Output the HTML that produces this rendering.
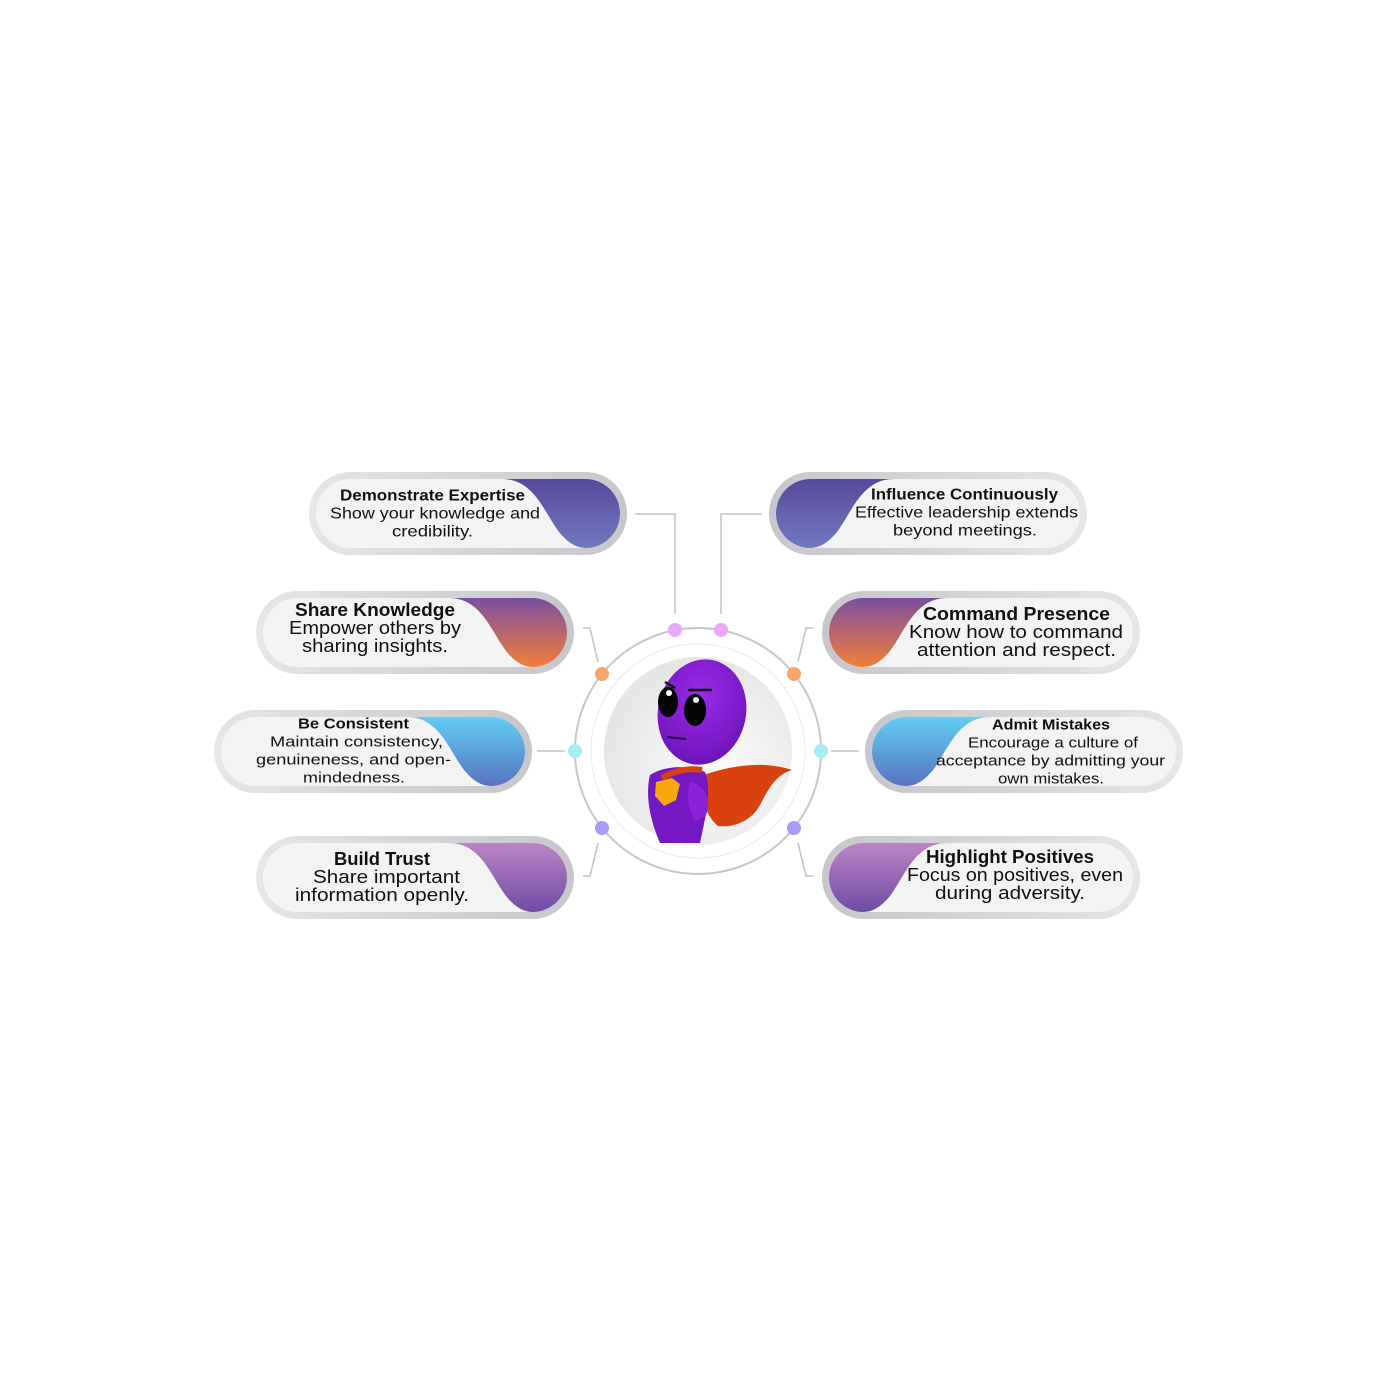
<!DOCTYPE html>
<html><head><meta charset="utf-8"><style>html,body{margin:0;padding:0;background:#fff}svg{display:block}text{font-family:"Liberation Sans",sans-serif;fill:#111}</style></head>
<body>
<svg width="1396" height="1396" viewBox="0 0 1396 1396" xmlns="http://www.w3.org/2000/svg">
<defs>
<clipPath id="ci"><rect x="7" y="7" width="304" height="69" rx="34.5"/></clipPath>
<linearGradient id="bd" x1="0" y1="0" x2="1" y2="0"><stop offset="0" stop-color="#e6e6e8"/><stop offset="1" stop-color="#c6c6cb"/></linearGradient>
<linearGradient id="bdr" x1="1" y1="0" x2="0" y2="0"><stop offset="0" stop-color="#e6e6e8"/><stop offset="1" stop-color="#c6c6cb"/></linearGradient>
<linearGradient id="g1" x1="0" y1="0" x2="0" y2="1"><stop offset="0" stop-color="#574a9c"/><stop offset="1" stop-color="#7079be"/></linearGradient>
<linearGradient id="g2" x1="0" y1="0" x2="0" y2="1"><stop offset="0" stop-color="#7b4ea0"/><stop offset="1" stop-color="#f27f3a"/></linearGradient>
<linearGradient id="g3" x1="0" y1="0" x2="0" y2="1"><stop offset="0" stop-color="#62cdf2"/><stop offset="1" stop-color="#5774c0"/></linearGradient>
<linearGradient id="g4" x1="0" y1="0" x2="0" y2="1"><stop offset="0" stop-color="#bd84c4"/><stop offset="1" stop-color="#6f4ca6"/></linearGradient>
<radialGradient id="disk" cx="0.6" cy="0.6" r="0.6"><stop offset="0" stop-color="#fafafa"/><stop offset="1" stop-color="#e6e6e6"/></radialGradient>
<radialGradient id="head" cx="0.45" cy="0.35" r="0.7"><stop offset="0" stop-color="#9a2be8"/><stop offset="1" stop-color="#6a12b8"/></radialGradient>
</defs>

<!-- connectors -->
<g fill="none" stroke="#c4c4c4" stroke-width="1.6">
<polyline points="635,514 675,514 675,614"/>
<polyline points="762,514 721,514 721,614"/>
<polyline points="583,628 590,628 598,662"/>
<polyline points="537,751 565,751"/>
<polyline points="583,876 590,876 598,843"/>
<polyline points="813,628 806,628 798,662"/>
<polyline points="859,751 831,751"/>
<polyline points="813,876 806,876 798,843"/>
</g>

<!-- ring -->
<circle cx="698" cy="751" r="123" fill="none" stroke="#c8c8c8" stroke-width="2"/>
<circle cx="698" cy="751" r="107" fill="#fff" stroke="#f1e4fb" stroke-width="1"/>
<circle cx="698" cy="751" r="94" fill="url(#disk)"/>
<g>
<circle cx="675" cy="630" r="7" fill="#e8aaf8"/>
<circle cx="721" cy="630" r="7" fill="#e8aaf8"/>
<circle cx="602" cy="674" r="7" fill="#f9a66a"/>
<circle cx="794" cy="674" r="7" fill="#f9a66a"/>
<circle cx="575" cy="751" r="7" fill="#a8eef0"/>
<circle cx="821" cy="751" r="7" fill="#a8eef0"/>
<circle cx="602" cy="828" r="7" fill="#a99cf6"/>
<circle cx="794" cy="828" r="7" fill="#a99cf6"/>
</g>

<!-- character -->
<g>
<path d="M700,776 C730,766 760,760 792,770 C775,775 768,790 760,805 C752,820 735,828 718,826 C705,815 700,795 700,776Z" fill="#d8420e"/>
<path d="M650,775 C665,765 690,765 705,772 C712,790 706,815 700,843 L660,843 C650,820 645,795 650,775Z" fill="#7418c4"/>
<path d="M690,782 C705,785 712,800 706,815 L695,822 C688,808 686,795 690,782Z" fill="#8a22d8"/>
<path d="M656,782 L672,778 L680,784 L676,800 L664,806 L655,796Z" fill="#f7a80e"/>
<path d="M662,778 C675,770 690,768 702,770" stroke="#d8420e" stroke-width="6" fill="none"/>
<ellipse cx="702" cy="712" rx="44" ry="53" transform="rotate(12 702 712)" fill="url(#head)"/>
<ellipse cx="668" cy="702" rx="10" ry="15" fill="#050505"/>
<ellipse cx="695" cy="710" rx="11" ry="16" fill="#050505"/>
<circle cx="669" cy="693" r="3" fill="#fff"/>
<circle cx="696" cy="700" r="3" fill="#fff"/>
<path d="M665,682 L675,688 M688,690 L712,690" stroke="#111" stroke-width="2.5"/>
<path d="M667,737 L686,739" stroke="#2a0a4a" stroke-width="2"/>
</g>

<!-- cards -->
<!-- left cards -->
<g transform="translate(309,472)">
<rect width="318" height="83" rx="41.5" fill="url(#bd)"/>
<rect x="7" y="7" width="304" height="69" rx="34.5" fill="#f3f3f3"/>
<path clip-path="url(#ci)" d="M193,7 C225,7 235,40 250,60 C260,72 268,76 278,76 L311,76 L311,7 Z" fill="url(#g1)"/>
</g>
<g transform="translate(256,591)">
<rect width="318" height="83" rx="41.5" fill="url(#bd)"/>
<rect x="7" y="7" width="304" height="69" rx="34.5" fill="#f3f3f3"/>
<path clip-path="url(#ci)" d="M193,7 C225,7 235,40 250,60 C260,72 268,76 278,76 L311,76 L311,7 Z" fill="url(#g2)"/>
</g>
<g transform="translate(214,710)">
<rect width="318" height="83" rx="41.5" fill="url(#bd)"/>
<rect x="7" y="7" width="304" height="69" rx="34.5" fill="#f3f3f3"/>
<path clip-path="url(#ci)" d="M193,7 C225,7 235,40 250,60 C260,72 268,76 278,76 L311,76 L311,7 Z" fill="url(#g3)"/>
</g>
<g transform="translate(256,836)">
<rect width="318" height="83" rx="41.5" fill="url(#bd)"/>
<rect x="7" y="7" width="304" height="69" rx="34.5" fill="#f3f3f3"/>
<path clip-path="url(#ci)" d="M193,7 C225,7 235,40 250,60 C260,72 268,76 278,76 L311,76 L311,7 Z" fill="url(#g4)"/>
</g>
<!-- right cards -->
<g transform="translate(769,472)">
<rect width="318" height="83" rx="41.5" fill="url(#bdr)"/>
<rect x="7" y="7" width="304" height="69" rx="34.5" fill="#f3f3f3"/>
<path clip-path="url(#ci)" d="M125,7 C93,7 83,40 68,60 C58,72 50,76 40,76 L7,76 L7,7 Z" fill="url(#g1)"/>
</g>
<g transform="translate(822,591)">
<rect width="318" height="83" rx="41.5" fill="url(#bdr)"/>
<rect x="7" y="7" width="304" height="69" rx="34.5" fill="#f3f3f3"/>
<path clip-path="url(#ci)" d="M125,7 C93,7 83,40 68,60 C58,72 50,76 40,76 L7,76 L7,7 Z" fill="url(#g2)"/>
</g>
<g transform="translate(865,710)">
<rect width="318" height="83" rx="41.5" fill="url(#bdr)"/>
<rect x="7" y="7" width="304" height="69" rx="34.5" fill="#f3f3f3"/>
<path clip-path="url(#ci)" d="M125,7 C93,7 83,40 68,60 C58,72 50,76 40,76 L7,76 L7,7 Z" fill="url(#g3)"/>
</g>
<g transform="translate(822,836)">
<rect width="318" height="83" rx="41.5" fill="url(#bdr)"/>
<rect x="7" y="7" width="304" height="69" rx="34.5" fill="#f3f3f3"/>
<path clip-path="url(#ci)" d="M125,7 C93,7 83,40 68,60 C58,72 50,76 40,76 L7,76 L7,7 Z" fill="url(#g4)"/>
</g>

<!-- text -->
<g text-anchor="middle" dominant-baseline="central" lengthAdjust="spacingAndGlyphs">
<text x="432.5" y="496" font-size="16" font-weight="bold" textLength="185" lengthAdjust="spacingAndGlyphs">Demonstrate Expertise</text>
<text x="435" y="514" font-size="16" textLength="210" lengthAdjust="spacingAndGlyphs">Show your knowledge and</text>
<text x="432.5" y="532" font-size="16" textLength="81" lengthAdjust="spacingAndGlyphs">credibility.</text>

<text x="375" y="610" font-size="18" font-weight="bold" textLength="160" lengthAdjust="spacingAndGlyphs">Share Knowledge</text>
<text x="375" y="628" font-size="18" textLength="172" lengthAdjust="spacingAndGlyphs">Empower others by</text>
<text x="375" y="646" font-size="18" textLength="146" lengthAdjust="spacingAndGlyphs">sharing insights.</text>

<text x="353.5" y="724" font-size="15" font-weight="bold" textLength="111" lengthAdjust="spacingAndGlyphs">Be Consistent</text>
<text x="356.5" y="742" font-size="15" textLength="173" lengthAdjust="spacingAndGlyphs">Maintain consistency,</text>
<text x="353.5" y="760" font-size="15" textLength="195" lengthAdjust="spacingAndGlyphs">genuineness, and open-</text>
<text x="354" y="778" font-size="15" textLength="102" lengthAdjust="spacingAndGlyphs">mindedness.</text>

<text x="382" y="859" font-size="18" font-weight="bold" textLength="96" lengthAdjust="spacingAndGlyphs">Build Trust</text>
<text x="386.5" y="877" font-size="18" textLength="147" lengthAdjust="spacingAndGlyphs">Share important</text>
<text x="382" y="895" font-size="18" textLength="174" lengthAdjust="spacingAndGlyphs">information openly.</text>

<text x="964.5" y="495" font-size="16" font-weight="bold" textLength="187" lengthAdjust="spacingAndGlyphs">Influence Continuously</text>
<text x="966.5" y="513" font-size="16" textLength="223" lengthAdjust="spacingAndGlyphs">Effective leadership extends</text>
<text x="965" y="531" font-size="16" textLength="144" lengthAdjust="spacingAndGlyphs">beyond meetings.</text>

<text x="1016.5" y="614" font-size="18" font-weight="bold" textLength="187" lengthAdjust="spacingAndGlyphs">Command Presence</text>
<text x="1016" y="632" font-size="18" textLength="214" lengthAdjust="spacingAndGlyphs">Know how to command</text>
<text x="1016.5" y="650" font-size="18" textLength="199" lengthAdjust="spacingAndGlyphs">attention and respect.</text>

<text x="1051" y="725" font-size="15" font-weight="bold" textLength="118" lengthAdjust="spacingAndGlyphs">Admit Mistakes</text>
<text x="1053" y="743" font-size="15" textLength="170" lengthAdjust="spacingAndGlyphs">Encourage a culture of</text>
<text x="1050.5" y="761" font-size="15" textLength="229" lengthAdjust="spacingAndGlyphs">acceptance by admitting your</text>
<text x="1051" y="779" font-size="15" textLength="106" lengthAdjust="spacingAndGlyphs">own mistakes.</text>

<text x="1010" y="857" font-size="18" font-weight="bold" textLength="168" lengthAdjust="spacingAndGlyphs">Highlight Positives</text>
<text x="1015" y="875" font-size="18" textLength="216" lengthAdjust="spacingAndGlyphs">Focus on positives, even</text>
<text x="1010" y="893" font-size="18" textLength="150" lengthAdjust="spacingAndGlyphs">during adversity.</text>
</g>
</svg>
</body></html>
